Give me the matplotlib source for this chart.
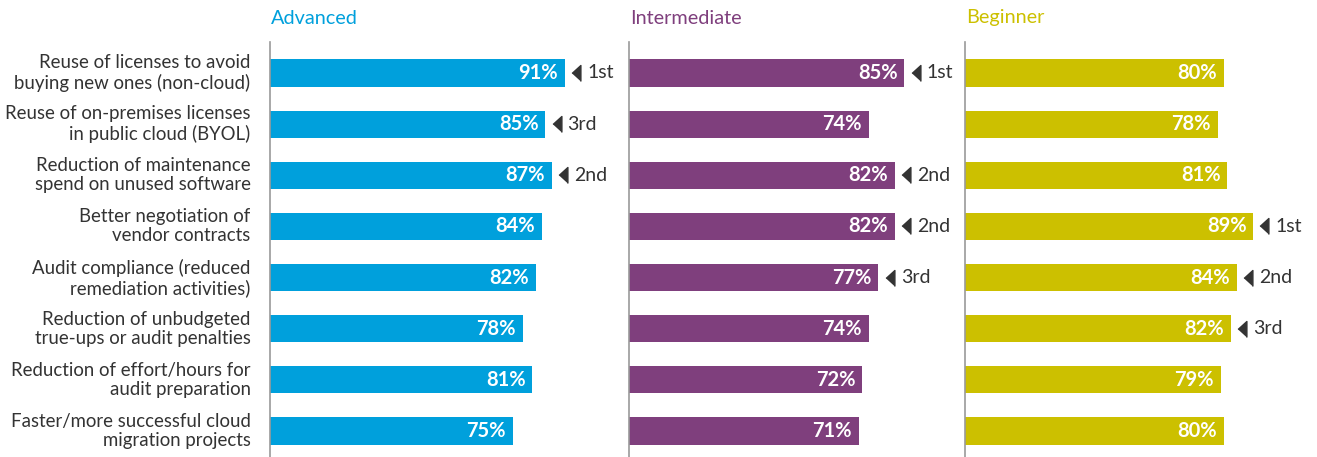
import matplotlib.pyplot as plt
from matplotlib.transforms import offset_copy

plt.rcParams['font.family'] = ['Lato', 'DejaVu Sans']

categories = [
    "Reuse of licenses to avoid\nbuying new ones (non-cloud)",
    "Reuse of on-premises licenses\nin public cloud (BYOL)",
    "Reduction of maintenance\nspend on unused software",
    "Better negotiation of\nvendor contracts",
    "Audit compliance (reduced\nremediation activities)",
    "Reduction of unbudgeted\ntrue-ups or audit penalties",
    "Reduction of effort/hours for\naudit preparation",
    "Faster/more successful cloud\nmigration projects",
]
groups = ["Advanced", "Intermediate", "Beginner"]
advanced = [91, 85, 87, 84, 82, 78, 81, 75]
intermediate = [85, 74, 82, 82, 77, 74, 72, 71]
beginner = [80, 78, 81, 89, 84, 82, 79, 80]
advanced_rank = ["1st", "3rd", "2nd", "", "", "", "", ""]
intermediate_rank = ["1st", "", "2nd", "2nd", "3rd", "", "", ""]
beginner_rank = ["", "", "", "1st", "2nd", "3rd", "", ""]

colors = ["#00A0DC", "#7F3F7D", "#CCC000"]
series = [advanced, intermediate, beginner]
ranks = [advanced_rank, intermediate_rank, beginner_rank]
txt = "#333333"

W, H = 1317, 457
fig = plt.figure(figsize=(W / 100, H / 100), dpi=100)

lefts = [270, 629, 965]
px_per_pct = 3.24
ax_w = 340
ytop, ybot = 42, 457
row0, step = 73, 51.14

tri = [(-0.55, 0), (0.55, 1), (0.55, -1)]

for k in range(3):
    ax = fig.add_axes([lefts[k] / W, 0, ax_w / W, 1 - ytop / H])
    vals = series[k]
    y = list(range(len(vals)))
    ax.barh(y, vals, height=0.53, color=colors[k])
    ax.set_xlim(0, ax_w / px_per_pct)
    ax.set_ylim(7 + (ybot - (row0 + 7 * step)) / step, -(row0 - ytop) / step)
    for s in ["top", "right", "bottom"]:
        ax.spines[s].set_visible(False)
    ax.spines["left"].set_color("#9a9a9a")
    ax.spines["left"].set_linewidth(1.2)
    ax.set_xticks([])
    ax.set_yticks([])
    shifted = offset_copy(ax.transData, fig=fig, x=8, y=0, units="points")
    for i, v in enumerate(vals):
        ax.annotate(f"{v}%", (v, i), xytext=(-5, 0), textcoords="offset points",
                    ha="right", va="center", color="white", fontsize=14.5,
                    fontweight="bold")
        if ranks[k][i]:
            ax.plot([v], [i], marker=tri, markersize=11.5, color=txt,
                    linestyle="none", clip_on=False, transform=shifted)
            ax.annotate(ranks[k][i], (v, i), xytext=(16, 0),
                        textcoords="offset points", ha="left", va="center",
                        color=txt, fontsize=14)
    fig.text((lefts[k] + 1) / W, 1 - 18 / H, groups[k], color=colors[k],
             fontsize=14.3, ha="left", va="center")
    if k == 0:
        for i, c in enumerate(categories):
            ax.annotate(c, (0, i), xytext=(-14, 0), textcoords="offset points",
                        ha="right", va="center", color=txt, fontsize=13.4,
                        linespacing=1.15)

fig.savefig("out.png", dpi=100)
